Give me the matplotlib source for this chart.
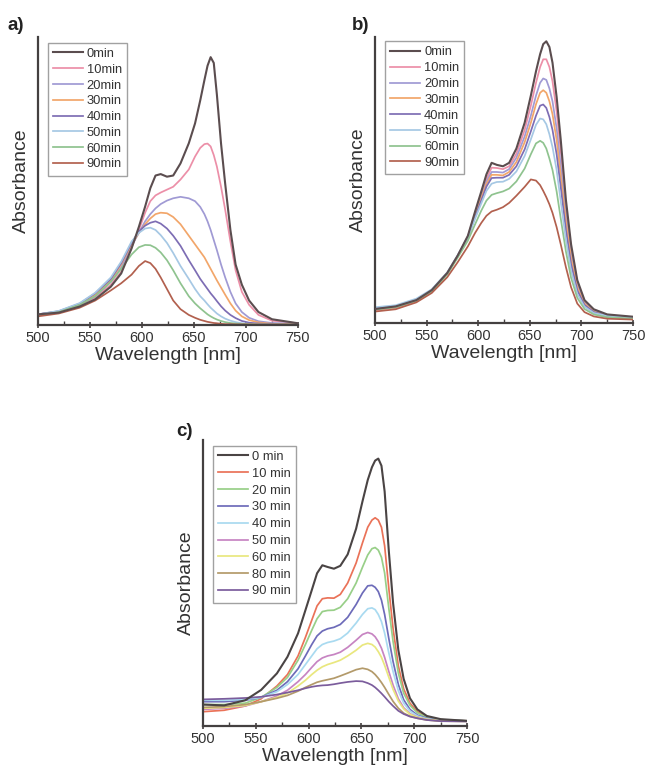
import matplotlib
matplotlib.use("Agg")
import matplotlib.pyplot as plt
from matplotlib.ticker import MultipleLocator

plt.rcParams['font.family'] = ['Liberation Sans', 'DejaVu Sans']

# ---------------- data ----------------
wl = [500, 520, 540, 555, 570, 580, 590, 597, 603, 608, 613, 618, 624, 630, 637, 645,
      651, 656, 660, 663, 666, 669, 672, 676, 680, 685, 690, 696, 703, 712, 725, 750]

labels_a = ["0min", "10min", "20min", "30min", "40min", "50min", "60min", "90min"]
a_0 = [0.037, 0.043, 0.064, 0.089, 0.133, 0.179, 0.266, 0.341, 0.411, 0.475, 0.519, 0.524, 0.515, 0.519, 0.561, 0.631,
       0.700, 0.780, 0.850, 0.900, 0.930, 0.910, 0.800, 0.630, 0.490, 0.330, 0.210, 0.140, 0.085, 0.045, 0.020, 0.006]
a_10 = [0.037, 0.045, 0.068, 0.095, 0.140, 0.185, 0.270, 0.330, 0.390, 0.430, 0.450, 0.460, 0.470, 0.480, 0.505, 0.540,
        0.585, 0.615, 0.628, 0.630, 0.620, 0.590, 0.550, 0.480, 0.400, 0.290, 0.190, 0.115, 0.070, 0.035, 0.015, 0.006]
a_20 = [0.037, 0.046, 0.070, 0.100, 0.150, 0.200, 0.275, 0.320, 0.360, 0.385, 0.405, 0.420, 0.432, 0.440, 0.445, 0.440,
        0.430, 0.410, 0.385, 0.360, 0.330, 0.295, 0.260, 0.210, 0.165, 0.115, 0.075, 0.045, 0.025, 0.013, 0.007, 0.004]
a_30 = [0.037, 0.047, 0.072, 0.105, 0.155, 0.210, 0.280, 0.320, 0.350, 0.370, 0.385, 0.390, 0.388, 0.375, 0.350, 0.310,
        0.280, 0.255, 0.235, 0.215, 0.195, 0.175, 0.155, 0.130, 0.105, 0.075, 0.050, 0.030, 0.017, 0.009, 0.004, 0.003]
a_40 = [0.037, 0.048, 0.074, 0.110, 0.160, 0.215, 0.285, 0.325, 0.345, 0.355, 0.360, 0.352, 0.335, 0.310, 0.275, 0.225,
        0.190, 0.160, 0.140, 0.125, 0.110, 0.097, 0.083, 0.065, 0.050, 0.035, 0.024, 0.014, 0.008, 0.005, 0.003, 0.002]
a_50 = [0.037, 0.049, 0.076, 0.112, 0.165, 0.220, 0.290, 0.320, 0.335, 0.338, 0.330, 0.312, 0.285, 0.250, 0.205, 0.160,
        0.125, 0.100, 0.085, 0.072, 0.060, 0.050, 0.040, 0.030, 0.022, 0.015, 0.010, 0.006, 0.004, 0.003, 0.002, 0.002]
a_60 = [0.033, 0.045, 0.070, 0.100, 0.150, 0.195, 0.245, 0.270, 0.278, 0.277, 0.268, 0.252, 0.225, 0.190, 0.145, 0.100,
        0.075, 0.058, 0.046, 0.037, 0.030, 0.024, 0.019, 0.014, 0.010, 0.007, 0.005, 0.004, 0.003, 0.002, 0.002, 0.002]
a_90 = [0.030, 0.040, 0.060, 0.085, 0.120, 0.145, 0.175, 0.205, 0.222, 0.215, 0.195, 0.165, 0.125, 0.085, 0.055, 0.035,
        0.025, 0.018, 0.014, 0.011, 0.009, 0.007, 0.006, 0.004, 0.003, 0.003, 0.002, 0.002, 0.002, 0.002, 0.002, 0.002]

labels_b = ["0min", "10min", "20min", "30min", "40min", "50min", "60min", "90min"]
b_0 = [0.049, 0.058, 0.080, 0.115, 0.175, 0.235, 0.305, 0.390, 0.460, 0.520, 0.560, 0.553, 0.548, 0.560, 0.610, 0.700,
       0.795, 0.880, 0.940, 0.975, 0.985, 0.965, 0.910, 0.790, 0.640, 0.430, 0.275, 0.150, 0.080, 0.048, 0.030, 0.022]
b_10 = [0.045, 0.053, 0.077, 0.112, 0.172, 0.232, 0.302, 0.385, 0.450, 0.505, 0.543, 0.542, 0.538, 0.548, 0.592, 0.675,
        0.760, 0.840, 0.895, 0.922, 0.922, 0.895, 0.845, 0.740, 0.600, 0.410, 0.260, 0.142, 0.077, 0.045, 0.027, 0.020]
b_20 = [0.050, 0.057, 0.080, 0.114, 0.174, 0.234, 0.302, 0.380, 0.442, 0.495, 0.528, 0.528, 0.526, 0.538, 0.578, 0.652,
        0.725, 0.795, 0.840, 0.855, 0.850, 0.820, 0.775, 0.680, 0.550, 0.380, 0.240, 0.132, 0.073, 0.043, 0.027, 0.020]
b_30 = [0.047, 0.055, 0.078, 0.112, 0.172, 0.232, 0.300, 0.375, 0.437, 0.487, 0.518, 0.518, 0.516, 0.528, 0.563, 0.632,
        0.700, 0.765, 0.805, 0.814, 0.805, 0.775, 0.730, 0.640, 0.515, 0.355, 0.225, 0.124, 0.068, 0.040, 0.025, 0.018]
b_40 = [0.050, 0.057, 0.080, 0.114, 0.174, 0.234, 0.300, 0.370, 0.428, 0.477, 0.507, 0.508, 0.508, 0.518, 0.548, 0.607,
        0.670, 0.725, 0.760, 0.764, 0.752, 0.720, 0.675, 0.590, 0.475, 0.325, 0.205, 0.114, 0.063, 0.038, 0.025, 0.018]
b_50 = [0.055, 0.062, 0.085, 0.118, 0.177, 0.236, 0.300, 0.365, 0.418, 0.462, 0.487, 0.493, 0.494, 0.504, 0.530, 0.584,
        0.642, 0.693, 0.715, 0.712, 0.695, 0.660, 0.615, 0.535, 0.425, 0.290, 0.183, 0.102, 0.057, 0.035, 0.025, 0.018]
b_60 = [0.047, 0.055, 0.078, 0.111, 0.170, 0.228, 0.288, 0.345, 0.393, 0.428, 0.448, 0.454, 0.460, 0.470, 0.495, 0.540,
        0.590, 0.628, 0.637, 0.630, 0.610, 0.575, 0.535, 0.460, 0.365, 0.250, 0.158, 0.088, 0.049, 0.030, 0.020, 0.015]
b_90 = [0.040, 0.048, 0.072, 0.105, 0.160, 0.212, 0.268, 0.315, 0.350, 0.375, 0.390, 0.396, 0.405, 0.420, 0.445, 0.476,
        0.502, 0.498, 0.482, 0.462, 0.440, 0.415, 0.385, 0.335, 0.275, 0.195, 0.125, 0.068, 0.038, 0.023, 0.015, 0.012]

labels_c = ["0 min", "10 min", "20 min", "30 min", "40 min", "50 min", "60 min", "80 min", "90 min"]
c_0 = [0.075, 0.072, 0.090, 0.126, 0.184, 0.242, 0.324, 0.405, 0.475, 0.534, 0.562, 0.556, 0.550, 0.560, 0.600, 0.690,
       0.785, 0.860, 0.905, 0.928, 0.935, 0.910, 0.820, 0.610, 0.430, 0.265, 0.165, 0.097, 0.058, 0.035, 0.024, 0.018]
c_10 = [0.050, 0.055, 0.070, 0.095, 0.140, 0.180, 0.245, 0.310, 0.370, 0.420, 0.445, 0.448, 0.447, 0.460, 0.500, 0.570,
        0.640, 0.695, 0.720, 0.728, 0.720, 0.695, 0.630, 0.480, 0.340, 0.210, 0.130, 0.080, 0.050, 0.032, 0.022, 0.018]
c_20 = [0.075, 0.075, 0.080, 0.100, 0.135, 0.170, 0.230, 0.285, 0.335, 0.375, 0.400, 0.404, 0.405, 0.415, 0.445, 0.500,
        0.555, 0.598, 0.620, 0.624, 0.615, 0.590, 0.535, 0.410, 0.295, 0.185, 0.115, 0.072, 0.046, 0.030, 0.022, 0.018]
c_30 = [0.085, 0.085, 0.090, 0.100, 0.125, 0.155, 0.200, 0.245, 0.285, 0.315, 0.332, 0.340, 0.345, 0.355, 0.380, 0.425,
        0.465, 0.490, 0.492, 0.485, 0.470, 0.440, 0.390, 0.305, 0.225, 0.145, 0.092, 0.058, 0.038, 0.027, 0.020, 0.018]
c_40 = [0.090, 0.090, 0.093, 0.100, 0.120, 0.145, 0.180, 0.215, 0.245, 0.270, 0.285, 0.292, 0.297, 0.305, 0.325, 0.360,
        0.390, 0.410, 0.413, 0.407, 0.390, 0.365, 0.325, 0.255, 0.190, 0.123, 0.080, 0.052, 0.035, 0.025, 0.020, 0.018]
c_50 = [0.058, 0.062, 0.070, 0.085, 0.105, 0.125, 0.155, 0.180, 0.205, 0.225, 0.238, 0.245, 0.250, 0.258, 0.275, 0.300,
        0.320, 0.327, 0.322, 0.312, 0.295, 0.272, 0.240, 0.190, 0.143, 0.095, 0.064, 0.043, 0.031, 0.023, 0.018, 0.017]
c_60 = [0.062, 0.065, 0.072, 0.085, 0.100, 0.115, 0.140, 0.160, 0.180, 0.195, 0.207, 0.215, 0.222, 0.230, 0.245, 0.265,
        0.283, 0.289, 0.285, 0.276, 0.260, 0.240, 0.212, 0.170, 0.128, 0.087, 0.060, 0.041, 0.030, 0.023, 0.018, 0.017]
c_80 = [0.065, 0.068, 0.075, 0.085, 0.097, 0.107, 0.122, 0.135, 0.145, 0.153, 0.158, 0.162, 0.167, 0.175, 0.185, 0.197,
        0.202, 0.198, 0.190, 0.180, 0.167, 0.152, 0.135, 0.110, 0.086, 0.062, 0.045, 0.034, 0.027, 0.021, 0.017, 0.016]
c_90 = [0.093, 0.095, 0.098, 0.102, 0.110, 0.117, 0.125, 0.132, 0.137, 0.140, 0.142, 0.143, 0.146, 0.150, 0.154, 0.157,
        0.156, 0.150, 0.143, 0.135, 0.125, 0.114, 0.102, 0.085, 0.070, 0.053, 0.042, 0.033, 0.027, 0.021, 0.017, 0.016]

colors_a = ["#5b4d4f", "#ec8fa8", "#a09ad4", "#f2a66a", "#7d6db4", "#a6c8e4", "#8fc38f", "#b2604e"]
colors_b = colors_a
colors_c = ["#4a4444", "#ea7258", "#98cf88", "#6d6bb9", "#a9daf0", "#c784c2", "#e9e77e", "#b39a6a", "#7b5c9c"]

series_a = [a_0, a_10, a_20, a_30, a_40, a_50, a_60, a_90]
series_b = [b_0, b_10, b_20, b_30, b_40, b_50, b_60, b_90]
series_c = [c_0, c_10, c_20, c_30, c_40, c_50, c_60, c_80, c_90]

# ---------------- figure ----------------
W, H = 648, 769
fig = plt.figure(figsize=(W / 100, H / 100), dpi=100)
axc = "#444040"


def panel(rect, series, labels, colors, tag, tagpos, legend_bbox, fs, spacing):
    ax = fig.add_axes(rect)
    for i, (y, lab, col) in enumerate(zip(series, labels, colors)):
        ax.plot(wl, y, color=col, lw=1.5 if i == 0 else 1.25, label=lab,
                solid_joinstyle="round", zorder=3 if i == 0 else 2)
    ax.set_xlim(500, 750)
    ax.set_ylim(0, 1.0)
    for s in ["top", "right"]:
        ax.spines[s].set_visible(False)
    for s in ["left", "bottom"]:
        ax.spines[s].set_color(axc)
        ax.spines[s].set_linewidth(1.6)
    ax.set_yticks([])
    ax.xaxis.set_major_locator(MultipleLocator(50))
    ax.xaxis.set_minor_locator(MultipleLocator(25))
    ax.tick_params(axis="x", which="major", direction="inout", length=5, width=1.2,
                   color=axc, labelsize=10.5, labelcolor="#333333", pad=2)
    ax.tick_params(axis="x", which="minor", direction="in", length=3, width=1.0, color=axc)
    ax.set_xlabel("Wavelength [nm]", fontsize=14, color="#333333", labelpad=1)
    ax.set_ylabel("Absorbance", fontsize=14, color="#333333", labelpad=6)
    leg = ax.legend(loc="upper left", bbox_to_anchor=legend_bbox, fontsize=fs,
                    frameon=True, fancybox=False, handlelength=2.3,
                    handletextpad=0.3, labelspacing=spacing, borderpad=0.4,
                    borderaxespad=0)
    leg.get_frame().set_edgecolor("#8a8a8a")
    leg.get_frame().set_linewidth(1.0)
    for t in leg.get_texts():
        t.set_color("#333333")
    fig.text(tagpos[0] / W, 1 - tagpos[1] / H, tag, fontsize=13.5, fontweight="bold",
             color="#222222", ha="left", va="center")
    return ax


panel([38 / W, 1 - 325 / H, 260 / W, 288 / H], series_a, labels_a, colors_a, "a)",
      (8, 25), (0.038, 0.98), 9.3, 0.29)
panel([375 / W, 1 - 323 / H, 258 / W, 286 / H], series_b, labels_b, colors_b, "b)",
      (352, 25), (0.04, 0.985), 9.3, 0.29)
panel([203 / W, 1 - 726 / H, 264 / W, 286 / H], series_c, labels_c, colors_c, "c)",
      (176, 431), (0.038, 0.98), 9.3, 0.37)

fig.savefig("out.png", dpi=100, facecolor="white")
